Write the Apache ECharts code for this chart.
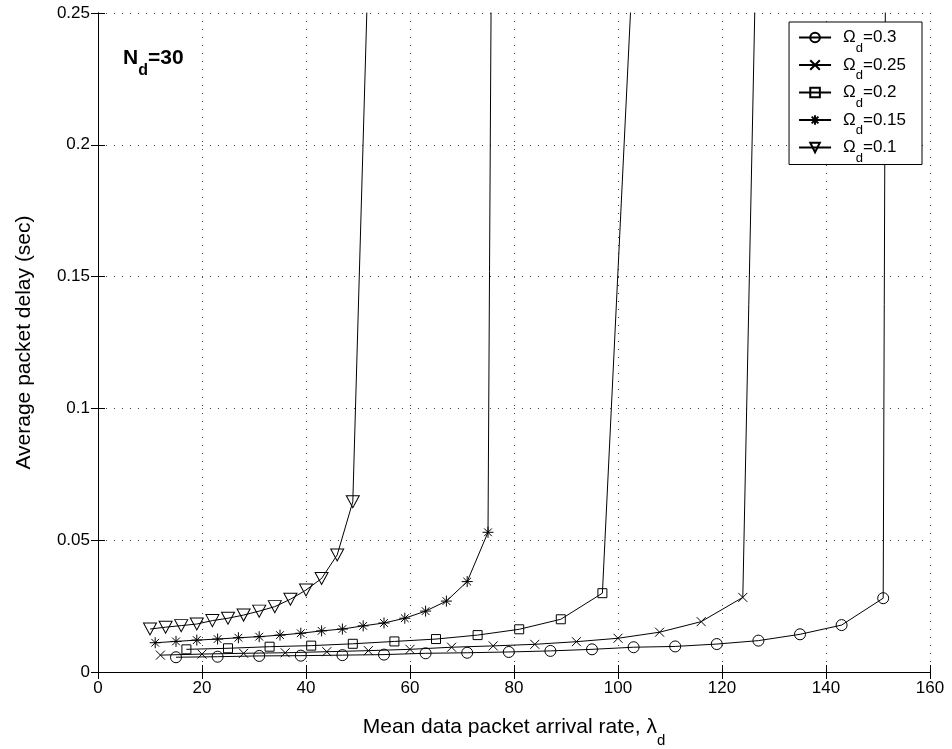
<!DOCTYPE html>
<html>
<head>
<meta charset="utf-8">
<script src="https://cdn.jsdelivr.net/npm/echarts@6/dist/echarts.min.js"></script>
<style>
  html, body { margin: 0; padding: 0; background: #fff; }
  #chart { width: 952px; height: 749px; }
</style>
</head>
<body>
<div id="chart"></div>
<script>
// Omega_d values (legend order)
const omegas = ['0.3', '0.25', '0.2', '0.15', '0.1'];

// x = mean data packet arrival rate, y = average packet delay (sec)
// last point of each curve lies above the visible range (queue blows up)
const x03 = [15, 23, 31, 39, 47, 55, 63, 71, 79, 87, 95, 103, 111, 119, 127, 135, 143, 151, 159];
const y03 = [0.0056, 0.0058, 0.0061, 0.0062, 0.0064, 0.0066, 0.0071, 0.0073, 0.0076, 0.0080,
  0.0086, 0.0094, 0.0097, 0.0106, 0.0119, 0.0143, 0.0178, 0.0280, 4.4];

const x025 = [12, 20, 28, 36, 44, 52, 60, 68, 76, 84, 92, 100, 108, 116, 124, 132];
const y025 = [0.0064, 0.0068, 0.0071, 0.0073, 0.0077, 0.0081, 0.0086, 0.0094, 0.0099, 0.0105,
  0.0115, 0.0128, 0.0151, 0.0191, 0.0283, 0.80];

const x02 = [17, 25, 33, 41, 49, 57, 65, 73, 81, 89, 97, 105];
const y02 = [0.0086, 0.0090, 0.0096, 0.0100, 0.0107, 0.0116, 0.0125, 0.0140, 0.0162, 0.0200, 0.0299, 0.356];

const x015 = [11, 15, 19, 23, 27, 31, 35, 39, 43, 47, 51, 55, 59, 63, 67, 71, 75, 79];
const y015 = [0.0111, 0.0116, 0.0121, 0.0125, 0.0130, 0.0134, 0.0140, 0.0147, 0.0156, 0.0163,
  0.0175, 0.0186, 0.0204, 0.0231, 0.0269, 0.0343, 0.053, 1.4];

const x01 = [10, 13, 16, 19, 22, 25, 28, 31, 34, 37, 40, 43, 46, 49, 52];
const y01 = [0.0163, 0.0170, 0.0176, 0.0182, 0.0195, 0.0204, 0.0216, 0.0231, 0.0248, 0.0276,
  0.0311, 0.0355, 0.0444, 0.0646, 0.271];

const zip = (xs, ys) => xs.map((x, i) => [x, ys[i]]);

const FONT = '"Liberation Sans", Arial, Helvetica, sans-serif';

// MATLAB-ish markers
const markers = [
  { symbol: 'circle', size: 11 },
  { symbol: 'path://M0,0 L10,10 M10,0 L0,10', size: 9 },
  { symbol: 'rect', size: 9 },
  { symbol: 'path://M5,0 L5,10 M0,5 L10,5 M1.5,1.5 L8.5,8.5 M8.5,1.5 L1.5,8.5', size: 11 },
  { symbol: 'path://M0,0 L12,0 L6,11 Z', size: [13, 12] }
];

const seriesData = [zip(x03, y03), zip(x025, y025), zip(x02, y02), zip(x015, y015), zip(x01, y01)];

const chart = echarts.init(document.getElementById('chart'));

const axisLine = { show: true, lineStyle: { color: '#000', width: 1 } };
const tick = { inside: true, length: 7, lineStyle: { color: '#000' } };
const grid = { show: true, lineStyle: { color: '#444', type: [1, 7], width: 1 } };

chart.setOption({
  animation: false,
  backgroundColor: '#fff',
  textStyle: { fontFamily: FONT, color: '#000' },
  title: {
    left: 118,
    top: 40,
    text: '{n|N}{d|d}{n|=30}',
    textStyle: {
      rich: {
        n: { fontFamily: FONT, fontSize: 21, fontWeight: 'bold', color: '#000', lineHeight: 26 },
        d: { fontFamily: FONT, fontSize: 16, fontWeight: 'bold', color: '#000', verticalAlign: 'bottom', padding: [0, 0, -8, 0] }
      }
    }
  },
  legend: {
    orient: 'vertical',
    right: 30,
    top: 22,
    padding: [7, 16, 0, 9],
    backgroundColor: '#fff',
    borderColor: '#000',
    borderWidth: 1,
    borderRadius: 0,
    itemWidth: 32,
    itemHeight: 12,
    itemGap: 2,
    data: omegas,
    formatter: name => '{g| }{o|Ω}{s|d}{o|=' + name + '}',
    textStyle: {
      rich: {
        g: { width: 7 },
        o: { fontFamily: FONT, fontSize: 17, color: '#000', lineHeight: 22 },
        s: { fontFamily: FONT, fontSize: 13, color: '#000', verticalAlign: 'bottom', padding: [0, 0, -6, 0] }
      }
    }
  },
  grid: { left: 98, right: 22, top: 13, bottom: 77, outerBoundsMode: 'none', containLabel: false },
  xAxis: [
    {
      type: 'value',
      min: 0,
      max: 160,
      interval: 20,
      name: '{t|Mean data packet arrival rate, λ}{s|d}',
      nameLocation: 'middle',
      nameGap: 42,
      nameTextStyle: {
        rich: {
          t: { fontFamily: FONT, fontSize: 21, color: '#000', lineHeight: 26 },
          s: { fontFamily: FONT, fontSize: 15, color: '#000', verticalAlign: 'bottom', padding: [0, 0, -8, 0] }
        }
      },
      axisLine,
      axisTick: tick,
      axisLabel: { fontFamily: FONT, fontSize: 17, color: '#000', margin: 8 },
      splitLine: grid
    },
    {
      type: 'value',
      position: 'top',
      min: 0,
      max: 160,
      interval: 20,
      axisLine,
      axisTick: tick,
      axisLabel: { show: false },
      splitLine: { show: false }
    }
  ],
  yAxis: [
    {
      type: 'value',
      min: 0,
      max: 0.25,
      interval: 0.05,
      name: 'Average packet delay (sec)',
      nameLocation: 'middle',
      nameGap: 63,
      nameTextStyle: { fontFamily: FONT, fontSize: 21, color: '#000' },
      axisLine,
      axisTick: tick,
      axisLabel: { fontFamily: FONT, fontSize: 17, color: '#000', margin: 8,
        formatter: v => String(+v.toFixed(2)) },
      splitLine: grid
    },
    {
      type: 'value',
      position: 'right',
      min: 0,
      max: 0.25,
      interval: 0.05,
      axisLine,
      axisTick: tick,
      axisLabel: { show: false },
      splitLine: { show: false }
    }
  ],
  series: omegas.map((om, i) => ({
    name: om,
    type: 'line',
    data: seriesData[i],
    clip: true,
    symbol: markers[i].symbol,
    symbolSize: markers[i].size,
    showAllSymbol: true,
    lineStyle: { color: '#000', width: 1 },
    itemStyle: { color: 'rgba(0,0,0,0)', borderColor: '#000', borderWidth: 1 },
    emphasis: { disabled: true }
  }))
});
</script>
</body>
</html>
